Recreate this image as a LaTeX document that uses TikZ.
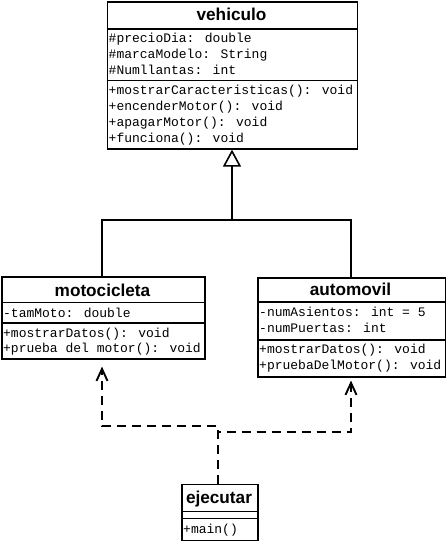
\documentclass[tikz,border=0pt]{standalone}
\usepackage{fontspec}
\setmainfont{Liberation Sans}
\newfontfamily\monof{Liberation Mono}
\usetikzlibrary{arrows.meta}
\tikzset{
  cls/.style={draw=black, line width=1.6pt, fill=white, inner sep=0pt, anchor=north west},
  sep/.style={line width=1.6pt},
  hdr/.style={font=\bfseries\fontsize{17.2}{19}\selectfont, inner sep=0pt, text height=11pt, text depth=3pt},
  mem/.style={font=\monof\fontsize{13}{14}\selectfont, inner sep=0pt, anchor=west, text height=9pt, text depth=2.5pt},
  conn/.style={line width=1.6pt},
  dep/.style={line width=1.6pt, dash pattern=on 9pt off 6pt, -{Straight Barb[length=12pt,width=11pt,line width=1.9pt]}},
}
\begin{document}
\begin{tikzpicture}[x=1pt,y=-1pt]
\useasboundingbox (0,0) rectangle (446,541);
% vehiculo
\node[cls, minimum width=250pt, minimum height=147pt] (veh) at (106.5,1) {};
\draw[sep] (veh.west |- 0,29) -- (veh.east |- 0,29);
\draw[sep] (veh.west |- 0,80.5) -- (veh.east |- 0,80.5);
\node[hdr] (vehT) at (231.5,16.5) {vehiculo};
\node[mem] (v1) at (108.5,39) {\#precioDia: double};
\node[mem] (v2) at (108.5,55) {\#marcaModelo: String};
\node[mem] (v3) at (108.5,71) {\#Numllantas: int};
\node[mem] (v4) at (108.5,91) {+mostrarCaracteristicas(): void};
\node[mem] (v5) at (108.5,107.5) {+encenderMotor(): void};
\node[mem] (v6) at (108.5,123.5) {+apagarMotor(): void};
\node[mem] (v7) at (108.5,139.5) {+funciona(): void};
% motocicleta
\node[cls, minimum width=203pt, minimum height=82pt] (moto) at (1,276) {};
\draw[sep] (moto.west |- 0,302.5) -- (moto.east |- 0,302.5);
\draw[sep] (moto.west |- 0,323) -- (moto.east |- 0,323);
\node[hdr] (motoT) at (102.5,292) {motocicleta};
\node[mem] (m1) at (3,314) {-tamMoto: double};
\node[mem] (m2) at (3,334) {+mostrarDatos(): void};
\node[mem] (m3) at (3,349.5) {+prueba del motor(): void};
% automovil
\node[cls, minimum width=187.5pt, minimum height=99pt] (auto) at (257,277) {};
\draw[sep] (auto.west |- 0,302) -- (auto.east |- 0,302);
\draw[sep] (auto.west |- 0,340) -- (auto.east |- 0,340);
\node[hdr] (autoT) at (350.5,291.5) {automovil};
\node[mem] (a1) at (259,313.5) {-numAsientos: int = 5};
\node[mem] (a2) at (259,329.5) {-numPuertas: int};
\node[mem] (a3) at (259,350) {+mostrarDatos(): void};
\node[mem] (a4) at (259,366) {+pruebaDelMotor(): void};
% ejecutar
\node[cls, minimum width=76pt, minimum height=56pt] (ejec) at (181,483.5) {};
\draw[sep] (ejec.west |- 0,511.5) -- (ejec.east |- 0,511.5);
\draw[sep] (ejec.west |- 0,518.5) -- (ejec.east |- 0,518.5);
\node[hdr] (ejecT) at (219,499) {ejecutar};
\node[mem] (e1) at (183,530) {+main()};
% inheritance
\coordinate (jv) at (232,220);
\coordinate (jl) at (102,220);
\coordinate (jr) at (351,220);
\draw[conn] (moto.north -| jl) -- (jl) -- (jr) -- (auto.north -| jr);
\draw[conn, -{Triangle[open, length=17pt, width=18pt]}] (jv) -- (veh.south -| jv);
% dependencies
\coordinate (dl) at (102,426);
\coordinate (dm) at (218,426);
\coordinate (dm2) at (218,432);
\coordinate (dr) at (351,432);
\draw[dep, shorten >=7pt] (ejec.north -| dm) -- (dm) -- (dl) -- (moto.south -| dl);
\draw[dep, shorten >=3pt] (ejec.north -| dm) -- (dm2) -- (dr) -- (auto.south -| dr);
\end{tikzpicture}
\end{document}
